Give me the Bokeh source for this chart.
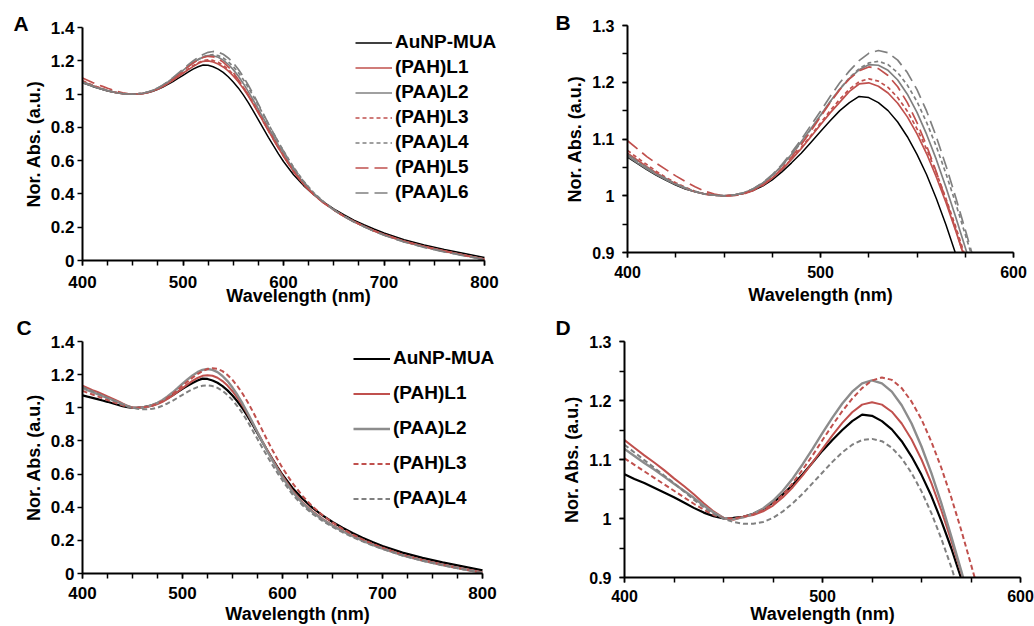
from bokeh.plotting import figure
from bokeh.layouts import column, row
from bokeh.models import Range1d, FixedTicker, CustomJSTickFormatter, Legend, LegendItem
from bokeh.embed import file_html
from bokeh.resources import INLINE

# Wavelength grid (nm)
wl = ([400, 405, 410, 415, 420, 425, 430, 435, 440, 445, 450, 455, 460, 465, 470, 475, 480, 485, 490, 495,
       500, 505, 510, 515, 520, 525, 530, 535, 540, 545, 550, 555, 560, 565, 570, 575, 580, 585, 590, 595, 600]
      + [610, 620, 630, 640, 650, 660, 670, 680, 690, 700] + [720, 740, 760, 780, 800])

# ---------------- Panel A / B data ----------------
a_mua = [1.068, 1.057, 1.046, 1.036, 1.027, 1.019, 1.012, 1.007, 1.003, 1.001, 1.000, 1.001, 1.004, 1.009, 1.017,
         1.028, 1.042, 1.058, 1.075, 1.094, 1.113, 1.132, 1.150, 1.164, 1.175, 1.173, 1.164, 1.150, 1.130, 1.104,
         1.073, 1.037, 0.995, 0.949, 0.898, 0.845, 0.792, 0.740, 0.690, 0.641, 0.595,
         0.515, 0.450, 0.395, 0.350, 0.310, 0.275, 0.243, 0.215, 0.189, 0.165,
         0.125, 0.093, 0.066, 0.042, 0.018]
a_l1 = [1.075, 1.063, 1.051, 1.040, 1.030, 1.021, 1.013, 1.007, 1.003, 1.001, 1.000, 1.001, 1.004, 1.010, 1.019,
        1.031, 1.046, 1.064, 1.083, 1.104, 1.125, 1.146, 1.165, 1.184, 1.197, 1.199, 1.193, 1.181, 1.163, 1.139,
        1.109, 1.074, 1.033, 0.988, 0.939, 0.887, 0.833, 0.780, 0.727, 0.676, 0.627,
        0.535, 0.458, 0.396, 0.347, 0.305, 0.268, 0.236, 0.207, 0.180, 0.157,
        0.117, 0.085, 0.058, 0.032, 0.008]
a_l2 = [1.070, 1.058, 1.047, 1.037, 1.028, 1.020, 1.013, 1.007, 1.003, 1.001, 1.000, 1.001, 1.005, 1.012, 1.022,
        1.036, 1.053, 1.073, 1.095, 1.118, 1.142, 1.166, 1.188, 1.207, 1.222, 1.231, 1.230, 1.221, 1.204, 1.179,
        1.147, 1.108, 1.064, 1.015, 0.963, 0.909, 0.854, 0.799, 0.745, 0.693, 0.642,
        0.547, 0.466, 0.400, 0.348, 0.304, 0.266, 0.233, 0.204, 0.177, 0.153,
        0.113, 0.081, 0.054, 0.030, 0.006]
a_l3 = [1.080, 1.067, 1.055, 1.043, 1.032, 1.023, 1.015, 1.008, 1.003, 1.001, 1.000, 1.001, 1.004, 1.010, 1.019,
        1.031, 1.047, 1.065, 1.085, 1.106, 1.128, 1.150, 1.170, 1.188, 1.201, 1.206, 1.202, 1.191, 1.173, 1.149,
        1.118, 1.082, 1.041, 0.995, 0.946, 0.893, 0.839, 0.785, 0.732, 0.681, 0.631,
        0.538, 0.460, 0.397, 0.347, 0.304, 0.266, 0.234, 0.205, 0.178, 0.155,
        0.115, 0.083, 0.056, 0.031, 0.007]
a_l4 = [1.072, 1.060, 1.049, 1.038, 1.029, 1.021, 1.013, 1.007, 1.003, 1.001, 1.000, 1.001, 1.005, 1.012, 1.022,
        1.035, 1.052, 1.072, 1.094, 1.117, 1.141, 1.165, 1.188, 1.208, 1.224, 1.234, 1.237, 1.231, 1.217, 1.195,
        1.166, 1.129, 1.087, 1.039, 0.987, 0.932, 0.876, 0.820, 0.765, 0.711, 0.659,
        0.561, 0.477, 0.408, 0.353, 0.307, 0.268, 0.234, 0.204, 0.177, 0.153,
        0.112, 0.080, 0.053, 0.029, 0.005]
a_l5 = [1.097, 1.083, 1.069, 1.057, 1.046, 1.035, 1.025, 1.016, 1.008, 1.003, 1.000, 1.000, 1.003, 1.009, 1.018,
        1.031, 1.048, 1.068, 1.090, 1.114, 1.139, 1.164, 1.187, 1.206, 1.220, 1.227, 1.224, 1.212, 1.192, 1.164,
        1.129, 1.088, 1.042, 0.993, 0.941, 0.887, 0.833, 0.779, 0.726, 0.675, 0.626,
        0.534, 0.457, 0.395, 0.345, 0.303, 0.266, 0.234, 0.205, 0.178, 0.155,
        0.115, 0.083, 0.056, 0.031, 0.006]
a_l6 = [1.073, 1.061, 1.050, 1.039, 1.030, 1.021, 1.014, 1.008, 1.003, 1.001, 1.000, 1.001, 1.005, 1.012, 1.023,
        1.037, 1.055, 1.076, 1.099, 1.124, 1.149, 1.175, 1.199, 1.220, 1.238, 1.251, 1.256, 1.252, 1.239, 1.217,
        1.187, 1.149, 1.104, 1.053, 0.998, 0.940, 0.881, 0.822, 0.765, 0.710, 0.657,
        0.558, 0.474, 0.405, 0.350, 0.305, 0.266, 0.232, 0.203, 0.176, 0.152,
        0.111, 0.079, 0.052, 0.028, 0.005]

# ---------------- Panel C / D data ----------------
c_mua = [1.075, 1.067, 1.060, 1.052, 1.044, 1.036, 1.027, 1.018, 1.010, 1.004, 1.000, 1.001, 1.003, 1.008, 1.016,
         1.027, 1.041, 1.057, 1.075, 1.095, 1.115, 1.133, 1.150, 1.165, 1.176, 1.174, 1.165, 1.151, 1.131, 1.105,
         1.074, 1.038, 0.996, 0.950, 0.899, 0.846, 0.793, 0.741, 0.691, 0.642, 0.596,
         0.516, 0.451, 0.396, 0.351, 0.311, 0.276, 0.244, 0.216, 0.190, 0.166,
         0.126, 0.094, 0.067, 0.043, 0.019]
c_l1 = [1.133, 1.120, 1.107, 1.095, 1.082, 1.068, 1.055, 1.041, 1.026, 1.012, 1.001, 0.998, 1.003, 1.006, 1.012,
        1.022, 1.036, 1.053, 1.073, 1.095, 1.118, 1.141, 1.162, 1.180, 1.193, 1.197, 1.193, 1.181, 1.161, 1.134,
        1.100, 1.060, 1.014, 0.963, 0.909, 0.853, 0.797, 0.742, 0.689, 0.638, 0.590,
        0.500, 0.430, 0.375, 0.330, 0.292, 0.259, 0.229, 0.202, 0.177, 0.154,
        0.114, 0.082, 0.055, 0.030, 0.007]
c_l2 = [1.118, 1.106, 1.094, 1.083, 1.071, 1.059, 1.047, 1.035, 1.022, 1.010, 1.001, 0.999, 1.002, 1.008, 1.017,
        1.030, 1.047, 1.068, 1.092, 1.118, 1.145, 1.171, 1.195, 1.215, 1.229, 1.234, 1.229, 1.215, 1.192, 1.161,
        1.122, 1.077, 1.026, 0.970, 0.912, 0.852, 0.793, 0.736, 0.681, 0.629, 0.580,
        0.492, 0.424, 0.370, 0.326, 0.288, 0.255, 0.225, 0.198, 0.173, 0.150,
        0.110, 0.078, 0.051, 0.027, 0.004]
c_l3 = [1.102, 1.091, 1.080, 1.069, 1.058, 1.047, 1.036, 1.025, 1.015, 1.006, 1.001, 1.000, 1.003, 1.007, 1.014,
        1.025, 1.040, 1.060, 1.083, 1.107, 1.133, 1.158, 1.182, 1.203, 1.221, 1.234, 1.239, 1.235, 1.221, 1.198,
        1.168, 1.130, 1.086, 1.036, 0.981, 0.922, 0.862, 0.802, 0.744, 0.689, 0.637,
        0.545, 0.468, 0.404, 0.352, 0.308, 0.270, 0.236, 0.206, 0.179, 0.155,
        0.113, 0.080, 0.052, 0.027, 0.004]
c_l4 = [1.125, 1.112, 1.099, 1.086, 1.073, 1.060, 1.046, 1.032, 1.019, 1.008, 1.000, 0.994, 0.991, 0.991, 0.994,
        1.001, 1.012, 1.026, 1.042, 1.060, 1.078, 1.096, 1.112, 1.125, 1.133, 1.135, 1.131, 1.120, 1.102, 1.077,
        1.046, 1.009, 0.966, 0.918, 0.865, 0.811, 0.757, 0.705, 0.654, 0.606, 0.561,
        0.477, 0.412, 0.360, 0.317, 0.281, 0.249, 0.220, 0.194, 0.170, 0.148,
        0.109, 0.077, 0.050, 0.026, 0.003]

labels_a = ["AuNP-MUA", "(PAH)L1", "(PAA)L2", "(PAH)L3", "(PAA)L4", "(PAH)L5", "(PAA)L6"]
labels_c = ["AuNP-MUA", "(PAH)L1", "(PAA)L2", "(PAH)L3", "(PAA)L4"]

RED = "#C0504D"
GRAY = "#808080"
FONT = "Liberation Sans"

styles_a = [("black", 1.5, "solid"), (RED, 1.7, "solid"), (GRAY, 1.7, "solid"), (RED, 1.7, "4 3"),
            (GRAY, 1.7, "4 3"), (RED, 1.7, "13 6"), (GRAY, 1.7, "13 6")]
styles_c = [("black", 2.2, "solid"), (RED, 2.0, "solid"), ("#8C8C8C", 2.4, "solid"), (RED, 2.0, "5 3"),
            (GRAY, 2.0, "5 3")]

fmt = CustomJSTickFormatter(code="return String(Math.round(tick*100)/100);")


def make_fig(w, h, lb, rb, tb, bb, xr, yr, xbounds, xt, xminor, yt, yminor, xfs, yfs,
             ystand, xstand, xlab_stand, letter, loff, lstand):
    p = figure(width=w, height=h, x_range=Range1d(*xr), y_range=Range1d(*yr),
               output_backend="svg", toolbar_location=None,
               min_border_left=lb, min_border_right=rb, min_border_top=tb, min_border_bottom=bb)
    p.xgrid.visible = False
    p.ygrid.visible = False
    p.outline_line_color = None
    p.background_fill_color = "white"
    p.border_fill_color = "white"
    p.xaxis.ticker = FixedTicker(ticks=xt, minor_ticks=xminor)
    p.yaxis.ticker = FixedTicker(ticks=yt, minor_ticks=yminor)
    p.xaxis.bounds = xbounds
    for ax in (p.xaxis[0], p.yaxis[0]):
        ax.formatter = fmt
        ax.axis_line_width = 2
        ax.axis_line_color = "black"
        ax.major_tick_in = 0
        ax.major_tick_out = 5
        ax.minor_tick_in = 0
        ax.minor_tick_out = 5
        ax.major_tick_line_width = 1.5
        ax.minor_tick_line_width = 1.5
        ax.major_tick_line_color = "black"
        ax.minor_tick_line_color = "black"
        ax.major_label_text_font = FONT
        ax.major_label_text_font_style = "bold"
        ax.major_label_text_color = "black"
        ax.axis_label_text_font = FONT
        ax.axis_label_text_font_style = "bold"
        ax.axis_label_text_color = "black"
        ax.axis_label_text_font_size = "18px"
    p.xaxis.major_label_text_font_size = xfs
    p.yaxis.major_label_text_font_size = yfs
    p.xaxis.axis_label = "Wavelength (nm)"
    p.yaxis.axis_label = "Nor. Abs. (a.u.)"
    p.xaxis.major_label_standoff = xstand
    p.xaxis.axis_label_standoff = xlab_stand
    p.yaxis.major_label_standoff = ystand
    p.yaxis.axis_label_standoff = 4
    # panel letter
    p.title.text = letter
    p.title.align = "left"
    p.title.offset = loff
    p.title.standoff = lstand
    p.title.text_font = FONT
    p.title.text_font_style = "bold"
    p.title.text_font_size = "21px"
    p.title.text_color = "black"
    return p


def make_legend(items, loc, spacing):
    return Legend(items=items, location=loc, glyph_width=37, glyph_height=21, label_height=21,
                  spacing=spacing, padding=0, margin=0, label_standoff=3, border_line_color=None,
                  background_fill_alpha=0, label_text_font=FONT, label_text_font_style="bold",
                  label_text_font_size="19px", label_text_color="black")


xt_full = [400, 500, 600, 700, 800]
xm_full = list(range(400, 801, 25))
yt_full = [0, 0.2, 0.4, 0.6, 0.8, 1.0, 1.2, 1.4]
xt_zoom = [400, 500, 600]
xm_zoom = list(range(400, 601, 25))
yt_zoom = [0.9, 1.0, 1.1, 1.2, 1.3]
ym_zoom = [0.9, 0.95, 1.0, 1.05, 1.1, 1.15, 1.2, 1.25, 1.3]

series_a = [a_mua, a_l1, a_l2, a_l3, a_l4, a_l5, a_l6]
series_c = [c_mua, c_l1, c_l2, c_l3, c_l4]

# Panel A (frame extended to the right so the legend text is not clipped; axis bounded at 800)
pA = make_fig(520, 310, 82, 6, 27, 50, (400, 829.85), (0, 1.4), (400, 800), xt_full, xm_full, yt_full, [],
              "17px", "17px", 3, 10, -5, "A", -69, -15)
rA = []
for ys, (c, lw, d) in zip(series_a, styles_a):
    rA.append(pA.line(wl, ys, line_color=c, line_width=lw, line_dash=d))
pA.add_layout(make_legend([LegendItem(label=l, renderers=[r]) for l, r in zip(labels_a, rA)], (273, 57), 3))

# Panel B
pB = make_fig(514, 310, 107, 21, 25, 58, (400, 600), (0.9, 1.3), (400, 600), xt_zoom, xm_zoom, yt_zoom, ym_zoom,
              "16px", "16px", 8, 8, 4, "B", -72, -17)
for ys, (c, lw, d) in zip(series_a, styles_a):
    pB.line(wl, ys, line_color=c, line_width=lw, line_dash=d)

# Panel C
pC = make_fig(520, 316, 82, 8, 31, 53, (400, 830), (0, 1.4), (400, 800), xt_full, xm_full, yt_full, [],
              "17px", "17px", 3, 8, 2, "C", -66, 5)
rC = []
for ys, (c, lw, d) in zip(series_c, styles_c):
    rC.append(pC.line(wl, ys, line_color=c, line_width=lw, line_dash=d))
pC.add_layout(make_legend([LegendItem(label=l, renderers=[r]) for l, r in zip(labels_c, rC)], (271, 64), 13))

# Panel D
pD = make_fig(514, 316, 104, 14, 30, 47, (400, 600), (0.9, 1.3), (400, 600), xt_zoom, xm_zoom, yt_zoom, ym_zoom,
              "16px", "16px", 8, 7, -1, "D", -69, 6)
for ys, (c, lw, d) in zip(series_c, styles_c):
    pD.line(wl, ys, line_color=c, line_width=lw, line_dash=d)

layout = column(row(column(pA), column(pB)), row(column(pC), column(pD)))
open("out.html", "w").write(file_html(layout, INLINE))
